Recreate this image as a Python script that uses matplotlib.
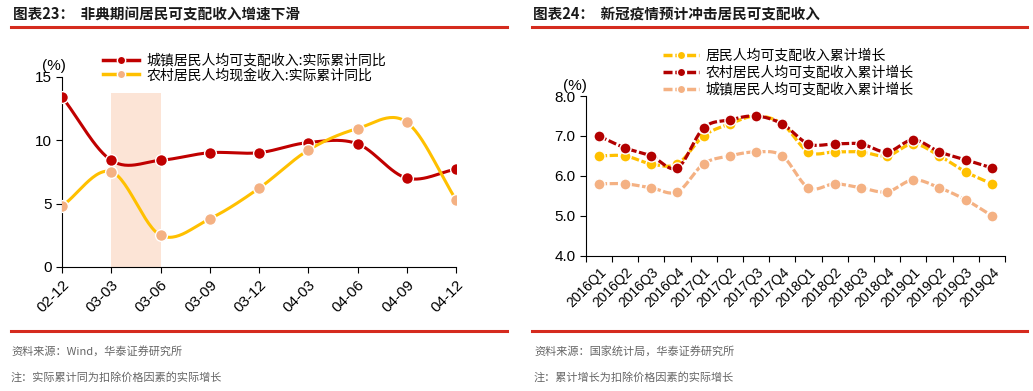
import numpy as np
import matplotlib
matplotlib.use('Agg')
import matplotlib.pyplot as plt
from matplotlib.lines import Line2D

plt.rcParams['font.family'] = ['Liberation Sans', 'Noto Sans CJK SC', 'DejaVu Sans']
CJK = ['Noto Sans CJK SC', 'DejaVu Sans']

# 图表23 数据
periods = ['02-12', '03-03', '03-06', '03-09', '03-12', '04-03', '04-06', '04-09', '04-12']
urban_sars = [13.4, 8.4, 8.4, 9.0, 9.0, 9.8, 9.7, 7.0, 7.7]
rural_sars = [4.8, 7.5, 2.5, 3.8, 6.2, 9.2, 10.9, 11.4, 5.3]
sars_band = ('03-03', '03-06')

# 图表24 数据
quarters = ['2016Q1', '2016Q2', '2016Q3', '2016Q4', '2017Q1', '2017Q2', '2017Q3', '2017Q4',
            '2018Q1', '2018Q2', '2018Q3', '2018Q4', '2019Q1', '2019Q2', '2019Q3', '2019Q4']
resident = [6.5, 6.5, 6.3, 6.3, 7.0, 7.3, 7.5, 7.3, 6.6, 6.6, 6.6, 6.5, 6.8, 6.5, 6.1, 5.8]
rural = [7.0, 6.7, 6.5, 6.2, 7.2, 7.4, 7.5, 7.3, 6.8, 6.8, 6.8, 6.6, 6.9, 6.6, 6.4, 6.2]
urban = [5.8, 5.8, 5.7, 5.6, 6.3, 6.5, 6.6, 6.5, 5.7, 5.8, 5.7, 5.6, 5.9, 5.7, 5.4, 5.0]

RED = '#C00000'
YELLOW = '#FFC000'
PEACH = '#F4B183'
DASH = (0, (2.6, 0.8))


def smooth(x, y, n=30):
    # Catmull-Rom 曲线，模拟 Excel 平滑线
    x = np.asarray(x, float)
    y = np.asarray(y, float)
    px = np.concatenate([[2 * x[0] - x[1]], x, [2 * x[-1] - x[-2]]])
    py = np.concatenate([[2 * y[0] - y[1]], y, [2 * y[-1] - y[-2]]])
    xs, ys = [], []
    t = np.linspace(0, 1, n)
    for i in range(1, len(px) - 2):
        for p, out in ((px, xs), (py, ys)):
            p0, p1, p2, p3 = p[i - 1], p[i], p[i + 1], p[i + 2]
            out.extend(0.5 * (2 * p1 + (-p0 + p2) * t + (2 * p0 - 5 * p1 + 4 * p2 - p3) * t ** 2
                              + (-p0 + 3 * p1 - 3 * p2 + p3) * t ** 3))
    return np.array(xs), np.array(ys)


fig = plt.figure(figsize=(10.33, 3.91), dpi=100)

# 标题与红线
fig.text(13 / 1033, 1 - 15 / 391, '图表23：  非典期间居民可支配收入增速下滑', family=CJK,
         fontsize=10.5, fontweight='bold', va='center', color='#1a1a1a')
fig.text(533 / 1033, 1 - 15 / 391, '图表24：  新冠疫情预计冲击居民可支配收入', family=CJK,
         fontsize=10.5, fontweight='bold', va='center', color='#1a1a1a')
for x0, x1 in ((11, 507), (532, 1027)):
    for yy in (27, 331):
        fig.add_artist(Line2D([x0 / 1033, x1 / 1033], [1 - yy / 391] * 2,
                              color='#D52B1E', lw=2.2, transform=fig.transFigure))
notes = [(11, '资料来源：Wind，华泰证券研究所', '注：实际累计同为扣除价格因素的实际增长'),
         (534, '资料来源：国家统计局，华泰证券研究所', '注：累计增长为扣除价格因素的实际增长')]
for x0, s1, s2 in notes:
    fig.text(x0 / 1033, 1 - 351 / 391, s1, family=CJK, fontsize=8, color='#666666', va='center')
    fig.text(x0 / 1033, 1 - 377 / 391, s2, family=CJK, fontsize=8, color='#666666', va='center')

# 左图
ax1 = fig.add_axes([62 / 1033, 1 - 267 / 391, 394 / 1033, 190.5 / 391])
xi = np.arange(len(periods))
b0, b1 = periods.index(sars_band[0]), periods.index(sars_band[1])
ax1.fill_between([b0, b1], 0, 13.7, color='#FCE4D6', lw=0, zorder=0)
sx, sy = smooth(xi, urban_sars)
ax1.plot(sx, sy, color=RED, lw=2.2, zorder=2)
ax1.plot(xi, urban_sars, 'o', color=RED, mec='white', mew=1, ms=8.5, zorder=3)
sx, sy = smooth(xi, rural_sars)
ax1.plot(sx, sy, color=YELLOW, lw=2.2, zorder=2)
ax1.plot(xi, rural_sars, 'o', color=PEACH, mec='white', mew=1, ms=8.5, zorder=3)
ax1.set_xlim(0, len(periods) - 1)
ax1.set_ylim(0, 15)
ax1.set_yticks([0, 5, 10, 15])
ax1.set_xticks(xi)
ax1.set_xticklabels(periods, rotation=45, ha='right', rotation_mode='anchor')
ax1.text(-0.17, 15.3, '(%)', fontsize=11, ha='center', va='bottom')
h1 = [Line2D([], [], color=RED, lw=2.5, marker='o', ms=6, mfc=RED, mec='white'),
      Line2D([], [], color=YELLOW, lw=2.5, marker='o', ms=6, mfc=PEACH, mec='white')]
ax1.legend(h1, ['城镇居民人均可支配收入:实际累计同比', '农村居民人均现金收入:实际累计同比'],
           loc='upper left', bbox_to_anchor=(0.09, 1.15), frameon=False,
           prop={'family': CJK, 'size': 10}, handlelength=2.6, handletextpad=0.5,
           labelspacing=0.05, borderaxespad=0)

# 右图
ax2 = fig.add_axes([585.7 / 1033, 1 - 255.7 / 391, 419.3 / 1033, 159.7 / 391])
qi = np.arange(len(quarters))
series = [(resident, YELLOW, '居民人均可支配收入累计增长'),
          (rural, '#B20000', '农村居民人均可支配收入累计增长'),
          (urban, PEACH, '城镇居民人均可支配收入累计增长')]
for k, (vals, col, _) in enumerate([series[2], series[0], series[1]]):
    sx, sy = smooth(qi, vals, n=12)
    ax2.plot(sx, sy, color=col, lw=2.3, ls=DASH, zorder=2 + 2 * k)
    ax2.plot(qi, vals, 'o', color=col, mec='white', mew=1, ms=8, zorder=3 + 2 * k)
ax2.set_xlim(-0.5, len(quarters) - 0.5)
ax2.set_ylim(4, 8)
ax2.set_yticks([4, 5, 6, 7, 8])
ax2.set_yticklabels([f'{v:.1f}' for v in [4, 5, 6, 7, 8]])
ax2.set_xticks(np.arange(len(quarters) + 1) - 0.5)
ax2.set_xticklabels([])
ax2.set_xticks(qi, minor=True)
ax2.set_xticklabels(quarters, minor=True, rotation=45, ha='right', rotation_mode='anchor')
ax2.tick_params(axis='x', which='minor', length=0, pad=7)
ax2.text(-0.9, 8.08, '(%)', fontsize=11, ha='center', va='bottom')
h2 = [Line2D([], [], color=c, lw=2.5, ls=DASH, marker='o', ms=6, mfc=c, mec='white')
      for _, c, _ in series]
ax2.legend(h2, [s[2] for s in series], loc='upper left', bbox_to_anchor=(0.17, 1.33),
           frameon=False, prop={'family': CJK, 'size': 10}, handlelength=2.6,
           handletextpad=0.5, labelspacing=0.2, borderaxespad=0)

for ax in (ax1, ax2):
    ax.spines['top'].set_visible(False)
    ax.spines['right'].set_visible(False)
    ax.tick_params(axis='both', which='major', direction='out', length=4, labelsize=11,
                   colors='black')
    ax.patch.set_alpha(0)

fig.savefig('out.png', dpi=100)
